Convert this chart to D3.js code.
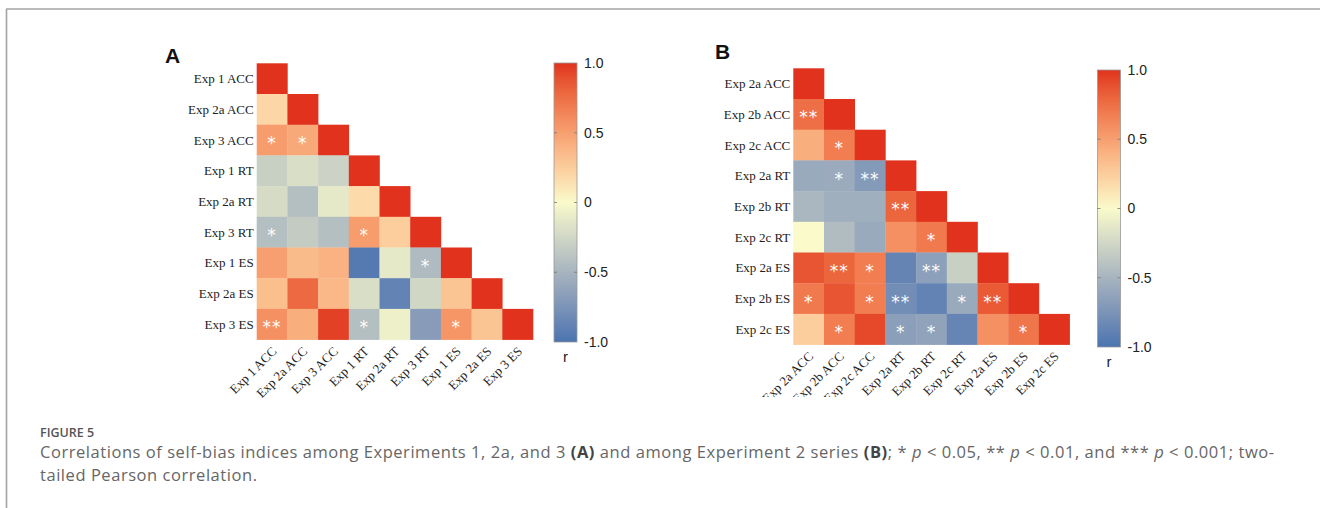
<!DOCTYPE html>
<html>
<head>
<meta charset="utf-8">
<script src="https://cdn.jsdelivr.net/npm/d3@7"></script>
<style>
  html, body { margin: 0; padding: 0; background: #fff; }
  svg { display: block; }
</style>
</head>
<body>
<svg id="fig" width="1320" height="508"></svg>
<script>
// ---- Panel A: Experiments 1, 2a and 3 ----
const labelsA = ["Exp 1 ACC", "Exp 2a ACC", "Exp 3 ACC", "Exp 1 RT", "Exp 2a RT",
                 "Exp 3 RT", "Exp 1 ES", "Exp 2a ES", "Exp 3 ES"];
// lower triangle of the correlation matrix, row by row
const rA = [
  [1],
  [0.20, 1],
  [0.52, 0.45, 1],
  [-0.30, -0.20, -0.28, 1],
  [-0.22, -0.42, -0.12, 0.18, 1],
  [-0.42, -0.33, -0.42, 0.52, 0.25, 1],
  [0.50, 0.35, 0.40, -0.95, -0.12, -0.45, 1],
  [0.33, 0.78, 0.37, -0.20, -0.88, -0.25, 0.30, 1],
  [0.58, 0.42, 0.95, -0.42, -0.07, -0.68, 0.55, 0.30, 1]
];
const sigA = [
  [""],
  ["", ""],
  ["*", "*", ""],
  ["", "", "", ""],
  ["", "", "", "", ""],
  ["*", "", "", "*", "", ""],
  ["", "", "", "", "", "*", ""],
  ["", "", "", "", "", "", "", ""],
  ["**", "", "", "*", "", "", "*", "", ""]
];

// ---- Panel B: Experiment 2 series ----
const labelsB = ["Exp 2a ACC", "Exp 2b ACC", "Exp 2c ACC", "Exp 2a RT", "Exp 2b RT",
                 "Exp 2c RT", "Exp 2a ES", "Exp 2b ES", "Exp 2c ES"];
const rB = [
  [1],
  [0.75, 1],
  [0.42, 0.68, 1],
  [-0.58, -0.57, -0.70, 1],
  [-0.48, -0.54, -0.54, 0.80, 1],
  [0.00, -0.44, -0.58, 0.58, 0.70, 1],
  [0.87, 0.80, 0.68, -0.87, -0.65, -0.30, 1],
  [0.70, 0.87, 0.68, -0.80, -0.88, -0.58, 0.85, 1],
  [0.25, 0.68, 0.92, -0.66, -0.63, -0.86, 0.58, 0.72, 1]
];
const sigB = [
  [""],
  ["**", ""],
  ["", "*", ""],
  ["", "*", "**", ""],
  ["", "", "", "**", ""],
  ["", "", "", "", "*", ""],
  ["", "**", "*", "", "**", "", ""],
  ["*", "", "*", "**", "", "*", "**", ""],
  ["", "*", "", "*", "*", "", "", "*", ""]
];

const colorTicks = [1.0, 0.5, 0, -0.5, -1.0];
const tickText = ["1.0", "0.5", "0", "-0.5", "-1.0"];

// diverging scale blue -> pale yellow -> red, interpolated in Lab space
const color = d3.scaleLinear()
  .domain([-1, 0, 1])
  .range(["#4a74b0", "#fafacb", "#e0321d"])
  .interpolate(d3.interpolateLab);

const svg = d3.select("#fig");
const defs = svg.append("defs");

// figure frame (top and left rules)
svg.append("line").attr("x1", 6).attr("x2", 1320).attr("y1", 9).attr("y2", 9)
  .attr("stroke", "#a3a3a3").attr("stroke-width", 1.6);
svg.append("line").attr("x1", 6.5).attr("x2", 6.5).attr("y1", 9).attr("y2", 508)
  .attr("stroke", "#a3a3a3").attr("stroke-width", 1.6);

// gradient shared by both colour bars
const grad = defs.append("linearGradient").attr("id", "rgrad")
  .attr("x1", 0).attr("x2", 0).attr("y1", 1).attr("y2", 0);
d3.range(0, 1.0001, 0.05).forEach(t => {
  grad.append("stop").attr("offset", t).attr("stop-color", color(-1 + 2 * t));
});

function panel(opts) {
  const { id, labels, r, sig, x0, y0, cell, letter, letterX, letterY, bar, clipY } = opts;
  const g = svg.append("g");
  if (clipY) {
    defs.append("clipPath").attr("id", "clip" + id)
      .append("rect").attr("x", 0).attr("y", 0).attr("width", 1320).attr("height", clipY);
    g.attr("clip-path", `url(#clip${id})`);
  }
  const n = labels.length;
  const x = d3.scaleBand().domain(labels).range([x0, x0 + n * cell]);
  const y = d3.scaleBand().domain(labels).range([y0, y0 + n * cell]);

  const cells = [];
  r.forEach((row, i) => row.forEach((v, j) => cells.push({ i, j, v, s: sig[i][j] })));

  g.selectAll("rect.cell").data(cells).join("rect")
    .attr("class", "cell")
    .attr("x", d => x(labels[d.j]))
    .attr("y", d => y(labels[d.i]))
    .attr("width", x.bandwidth() + 0.3)
    .attr("height", y.bandwidth() + 0.3)
    .attr("fill", d => color(d.v));

  g.selectAll("text.sig").data(cells.filter(d => d.s)).join("text")
    .attr("class", "sig")
    .attr("x", d => x(labels[d.j]) + x.bandwidth() / 2)
    .attr("y", d => y(labels[d.i]) + y.bandwidth() / 2 + 9)
    .attr("text-anchor", "middle")
    .attr("fill", "#fff")
    .attr("font-family", "DejaVu Sans, sans-serif")
    .attr("font-size", 17)
    .attr("letter-spacing", 1)
    .text(d => d.s);

  // row labels
  g.selectAll("text.ylab").data(labels).join("text")
    .attr("class", "ylab")
    .attr("x", x0 - 3)
    .attr("y", d => y(d) + y.bandwidth() / 2)
    .attr("dy", "0.35em")
    .attr("text-anchor", "end")
    .attr("font-family", "Liberation Serif, serif")
    .attr("font-size", 13)
    .attr("fill", "#222")
    .text(d => d);

  // column labels, rotated
  const yb = y0 + n * cell;
  g.selectAll("text.xlab").data(labels).join("text")
    .attr("class", "xlab")
    .attr("transform", d => `translate(${x(d) + x.bandwidth() / 2 - 1},${yb + 6}) rotate(-45)`)
    .attr("text-anchor", "end")
    .attr("dy", "0.7em")
    .attr("font-family", "Liberation Serif, serif")
    .attr("font-size", 13)
    .attr("fill", "#222")
    .text(d => d);

  // panel letter
  svg.append("text").attr("x", letterX).attr("y", letterY)
    .attr("font-family", "Liberation Sans, Arial, sans-serif")
    .attr("font-weight", "bold").attr("font-size", 21).attr("fill", "#111")
    .text(letter);

  // colour bar
  const cy = d3.scaleLinear().domain([-1, 1]).range([bar.bottom, bar.top]);
  g.append("rect")
    .attr("x", bar.x).attr("y", bar.top)
    .attr("width", bar.w).attr("height", bar.bottom - bar.top)
    .attr("fill", "url(#rgrad)")
    .attr("stroke", "#9a9a9a").attr("stroke-width", 0.8);
  const inner = colorTicks.filter(v => Math.abs(v) < 1);
  g.selectAll("line.tk").data(inner.flatMap(v => [[v, bar.x, bar.x + 3], [v, bar.x + bar.w - 3, bar.x + bar.w]]))
    .join("line").attr("class", "tk")
    .attr("x1", d => d[1]).attr("x2", d => d[2])
    .attr("y1", d => cy(d[0])).attr("y2", d => cy(d[0]))
    .attr("stroke", "#777").attr("stroke-width", 0.8);
  g.selectAll("text.ctk").data(colorTicks).join("text")
    .attr("class", "ctk")
    .attr("x", bar.x + bar.w + 7)
    .attr("y", d => cy(d))
    .attr("dy", "0.35em")
    .attr("font-family", "Liberation Sans, Arial, sans-serif")
    .attr("font-size", 14)
    .attr("fill", "#222")
    .text((d, i) => tickText[i]);
  g.append("text")
    .attr("x", bar.x + bar.w / 2).attr("y", bar.bottom + 20)
    .attr("text-anchor", "middle")
    .attr("font-family", "Liberation Sans, Arial, sans-serif")
    .attr("font-size", 15).attr("fill", "#222")
    .text("r");
}

panel({ id: "A", labels: labelsA, r: rA, sig: sigA, x0: 256.7, y0: 63.3, cell: 30.7,
        letter: "A", letterX: 165, letterY: 63,
        bar: { x: 554, w: 23, top: 63, bottom: 342 } });
panel({ id: "B", labels: labelsB, r: rB, sig: sigB, x0: 793.3, y0: 68.3, cell: 30.7,
        letter: "B", letterX: 715, letterY: 59, clipY: 397,
        bar: { x: 1097.5, w: 23, top: 70, bottom: 347 } });

// caption
svg.append("text").attr("x", 40).attr("y", 437)
  .attr("font-family", "Open Sans, sans-serif").attr("font-size", 12.5)
  .attr("font-weight", 600).attr("fill", "#555")
  .text("FIGURE 5");

const capStyle = sel => sel
  .attr("font-family", "Open Sans, sans-serif").attr("font-size", 16.5)
  .attr("letter-spacing", 0.55).attr("fill", "#666");
const cap = svg.append("text").attr("x", 40).attr("y", 458).call(capStyle);
const parts = [
  ["Correlations of self-bias indices among Experiments 1, 2a, and 3 ", ""],
  ["(A)", "b"], [" and among Experiment 2 series ", ""], ["(B)", "b"],
  ["; * ", ""], ["p", "i"], [" < 0.05, ** ", ""], ["p", "i"],
  [" < 0.01, and *** ", ""], ["p", "i"], [" < 0.001; two-", ""]
];
parts.forEach(([t, s]) => {
  const ts = cap.append("tspan").text(t);
  if (s === "b") ts.attr("font-weight", "bold").attr("fill", "#444");
  if (s === "i") ts.attr("font-style", "italic");
});
svg.append("text").attr("x", 40).attr("y", 481).call(capStyle)
  .text("tailed Pearson correlation.");
</script>
</body>
</html>
